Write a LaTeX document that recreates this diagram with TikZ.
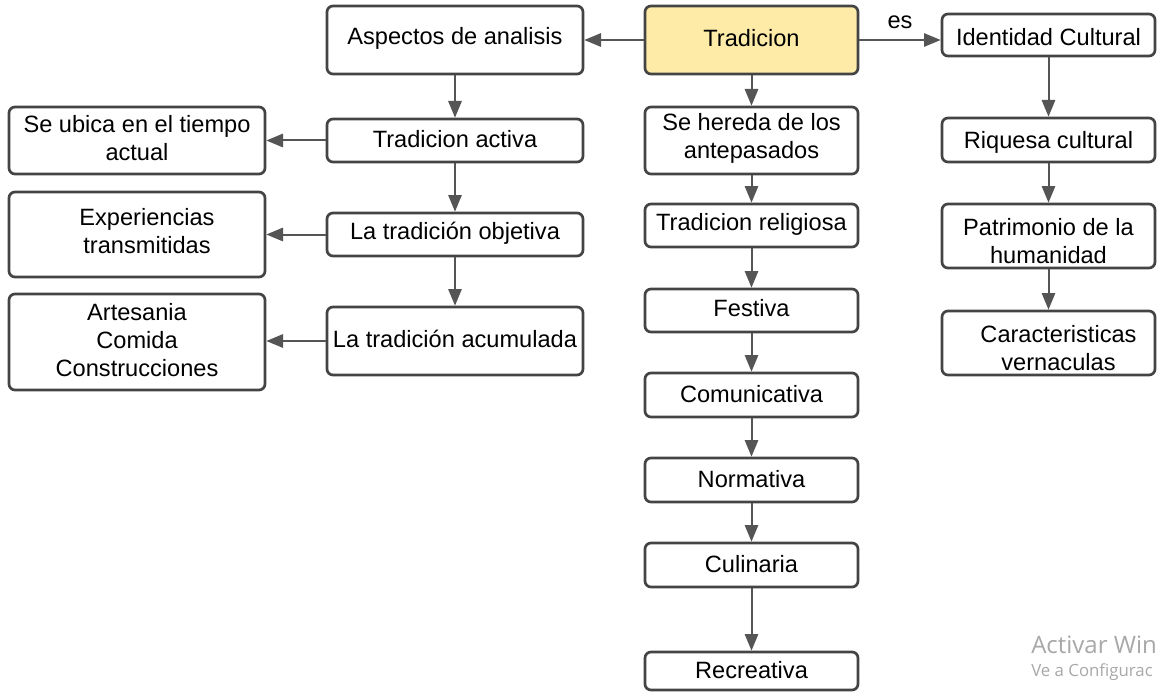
\documentclass[tikz,border=0pt]{standalone}
\usepackage{fontspec}
\setmainfont{Liberation Sans}
\newfontfamily\wmfont{Open Sans}
\usetikzlibrary{arrows.meta}
\definecolor{boxline}{RGB}{68,68,68}
\definecolor{arrline}{RGB}{85,85,85}
\definecolor{tradfill}{RGB}{253,235,167}
\definecolor{wmgray}{RGB}{168,168,168}
\tikzset{
  box/.style={draw=boxline, line width=2pt, rounded corners=4.5pt, fill=white, inner sep=0pt},
  txt/.style={font=\fontsize{17.7}{21}\selectfont, align=center, text=black, inner sep=0pt},
  arr/.style={draw=arrline, line width=1.5pt, -{Triangle[length=12.5pt,width=10pt]}},
  wmbig/.style={font=\wmfont\fontsize{18}{21}\selectfont, text=wmgray, inner sep=0pt, anchor=west},
  wmsmall/.style={font=\wmfont\fontsize{12.6}{14}\selectfont, text=wmgray, inner sep=0pt, anchor=west}
}
% #1 extra style, #2 name, #3 x1, #4 y1, #5 x2, #6 y2, #7 dx, #8 dy, #9 text
\newcommand\mkbox[9][]{%
  \pgfmathsetmacro\bxc{(#3+#5)/2}%
  \pgfmathsetmacro\byc{(#4+#6)/2}%
  \pgfmathsetmacro\bw{(#5-#3)*0.75}%
  \pgfmathsetmacro\bh{(#6-#4)*0.75}%
  \node[box,#1,minimum width=\bw pt,minimum height=\bh pt] (#2) at (\bxc,\byc) {};
  \node[txt] (#2-t) at (\bxc+#7,\byc+#8) {#9};
}
\begin{document}
\begin{tikzpicture}[x=0.75pt,y=-0.75pt]
\useasboundingbox (0,0) rectangle (1161,692);
\fill[white] (0,0) rectangle (1161,692);

% left column
\mkbox{ubica}{9}{107}{265}{174}{0}{-2}{Se ubica en el tiempo\\actual}
\mkbox{exper}{9}{192}{265}{277}{10}{-3}{Experiencias\\transmitidas}
\mkbox{artes}{9}{294}{265}{390}{0}{-2}{Artesania\\Comida\\Construcciones}

% second column
\mkbox{aspectos}{327}{6}{583}{74}{0}{-2}{Aspectos de analisis}
\mkbox{activa}{327}{119}{583}{162}{0}{-1}{Tradicion activa}
\mkbox{objetiva}{327}{213}{583}{256}{0}{-1}{La tradición objetiva}
\mkbox{acumulada}{327}{307}{583}{375}{0}{-2}{La tradición acumulada}

% center column
\mkbox[fill=tradfill]{trad}{645}{6}{858}{74}{0}{-2}{Tradicion}
\mkbox{hereda}{645}{107}{858}{174}{0}{-2}{Se hereda de los\\antepasados}
\mkbox{religiosa}{645}{204}{858}{247}{0}{-1}{Tradicion religiosa}
\mkbox{festiva}{645}{289}{858}{332}{0}{-2}{Festiva}
\mkbox{comun}{645}{373}{858}{417}{0}{-1}{Comunicativa}
\mkbox{normativa}{645}{458}{858}{502}{0}{-1}{Normativa}
\mkbox{culinaria}{645}{543}{858}{587}{0}{-1}{Culinaria}
\mkbox{recreativa}{645}{652}{858}{690}{0}{-1}{Recreativa}

% right column
\mkbox{identidad}{942}{14}{1155}{56}{0}{2}{Identidad Cultural}
\mkbox{riquesa}{942}{118}{1155}{162}{0}{2}{Riquesa cultural}
\mkbox{patri}{942}{204}{1155}{268}{0}{5}{Patrimonio de la\\humanidad}
\mkbox{caract}{942}{311}{1155}{375}{10}{5}{Caracteristicas\\vernaculas}

% connectors
\draw[arr] (trad.west) -- (aspectos.east);
\draw[arr] (trad.east) -- (trad.east -| identidad.west);
\node[txt] (es) at (900,22) {es};

\draw[arr] (aspectos.south) -- (activa.north);
\draw[arr] (activa.south) -- (objetiva.north);
\draw[arr] (objetiva.south) -- (acumulada.north);

\draw[arr] (activa.west) -- (activa.west -| ubica.east);
\draw[arr] (objetiva.west) -- (objetiva.west -| exper.east);
\draw[arr] (acumulada.west) -- (acumulada.west -| artes.east);

\draw[arr] (trad.south) -- (hereda.north);
\draw[arr] (hereda.south) -- (religiosa.north);
\draw[arr] (religiosa.south) -- (festiva.north);
\draw[arr] (festiva.south) -- (comun.north);
\draw[arr] (comun.south) -- (normativa.north);
\draw[arr] (normativa.south) -- (culinaria.north);
\draw[arr] (culinaria.south) -- (recreativa.north);

\draw[arr] (identidad.south) -- (riquesa.north);
\draw[arr] (riquesa.south) -- (patri.north);
\draw[arr] (patri.south) -- (caract.north);

% watermark (as far as the reference shows it)
\node[wmbig] (wm1) at (1031,645) {Activar Win};
\node[wmsmall] (wm2) at (1031,672) {Ve a Configurac};
\end{tikzpicture}
\end{document}
